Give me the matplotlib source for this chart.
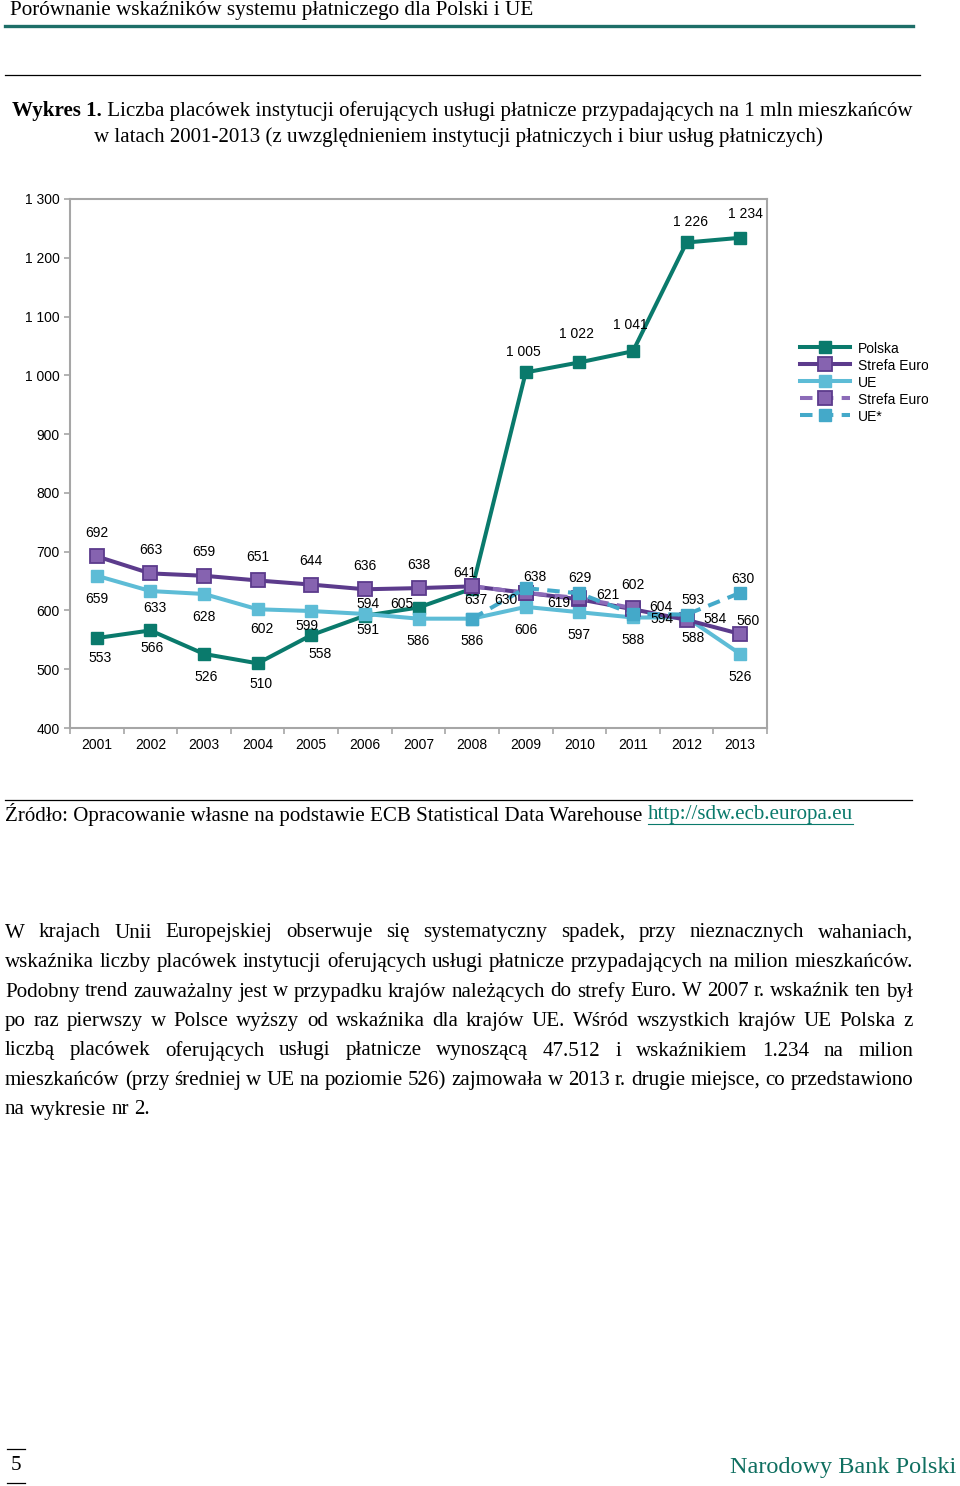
import numpy as np
import matplotlib
matplotlib.use("Agg")
import matplotlib.pyplot as plt
from matplotlib.lines import Line2D

W, H, DPI = 960, 1486, 100
plt.rcParams["lines.scale_dashes"] = False

nan = np.nan
years = [str(y) for y in range(2001, 2014)]
polska = [553, 566, 526, 510, 558, 591, 605, 637, 1005, 1022, 1041, 1226, 1234]
strefa_euro = [692, 663, 659, 651, 644, 636, 638, 641, 630, 619, 602, 584, 560]
ue = [659, 633, 628, 602, 599, 594, 586, 586, 606, 597, 588, 588, 526]
strefa_euro_star = [nan] * 7 + [641, 630, 621, 604, nan, nan]
ue_star = [nan] * 7 + [586, 638, 629, 594, 593, 630]
y_ticks = list(range(400, 1301, 100))

series_names = ["Polska", "Strefa Euro", "UE", "Strefa Euro*", "UE*"]

# label offsets in pixels (dx, dy downwards); None = no label
off_polska = [(3, 20), (2, 18), (2, 23), (3, 21), (9, 19), (3, 14), (-17, -4),
              (4, 11), (-2, -20), (-3, -28), (-3, -26), (4, -20), (5, -24)]
off_se = [(0, -23), (0, -23), (0, -24), (0, -23), (0, -24), (0, -23), (0, -23),
          (-7, -13), (-20, 7), (-21, 4), (0, -24), (28, -1), (8, -13)]
off_ue = [(0, 23), (4, 17), (0, 23), (4, 20), (-4, 15), (3, -10), (0, 22),
          (0, 22), (0, 23), (0, 23), (0, 23), (6, 21), (0, 23)]
off_se_star = [None] * 9 + [(29, -3), (28, -1), None, None]
off_ue_star = [None] * 8 + [(9, -11), (1, -15), (29, 5), (6, -15), (3, -14)]

TEAL = "#0a7a6c"
PURPLE = "#5c3b8c"
PURPLE_FACE = "#8663b0"
PURPLE_DASH = "#8c6bb8"
BLUE = "#5dbcd6"
BLUE_DASH = "#44a9c9"
GRID = "#a6a6a6"
SANS = "Liberation Sans"
SERIF = "Liberation Serif"


def fx(px):
    return px / W


def fy(py):
    return 1 - py / H


def fmt(v):
    return f"{int(v):,}".replace(",", " ")


fig = plt.figure(figsize=(W / DPI, H / DPI), dpi=DPI)
ax = fig.add_axes([fx(70), fy(728), fx(767) - fx(70), fy(199) - fy(728)])

x = np.arange(len(years))
lw = 2.9
styles = [
    (polska, dict(color=TEAL, lw=lw, marker="s", ms=8, mfc=TEAL, mec=TEAL, zorder=3), off_polska),
    (strefa_euro, dict(color=PURPLE, lw=lw, marker="s", ms=10.5, mfc=PURPLE_FACE, mec=PURPLE,
                       mew=1.3, zorder=5), off_se),
    (ue, dict(color=BLUE, lw=lw, marker="s", ms=8, mfc=BLUE, mec=BLUE, zorder=4), off_ue),
    (strefa_euro_star, dict(color=PURPLE_DASH, lw=lw, ls="--", dashes=(9, 6), marker="s", ms=10,
                            mfc=PURPLE_FACE, mec=PURPLE, mew=1.3, zorder=6), off_se_star),
    (ue_star, dict(color=BLUE_DASH, lw=lw, ls="--", dashes=(9, 6), marker="s", ms=8.5,
                   mfc=BLUE_DASH, mec=BLUE_DASH, zorder=7), off_ue_star),
]

handles = []
for vals, kw, offs in styles:
    line, = ax.plot(x, vals, **kw)
    handles.append(line)
    for i, v in enumerate(vals):
        if np.isnan(v) or offs[i] is None:
            continue
        dx, dy = offs[i]
        ax.annotate(fmt(v), (i, v), xytext=(dx, -dy), textcoords="offset pixels",
                    ha="center", va="center", fontsize=10, family=SANS, zorder=10)

ax.set_xlim(-0.5, len(years) - 0.5)
ax.set_ylim(400, 1300)
ax.set_yticks(y_ticks)
ax.set_yticklabels([fmt(v) for v in y_ticks], family=SANS, fontsize=10)
ax.set_xticks(x)
ax.set_xticklabels(years, family=SANS, fontsize=10)
ax.set_xticks(np.arange(-0.5, len(years)), minor=True)
ax.tick_params(axis="x", which="major", length=0, pad=7)
ax.tick_params(axis="x", which="minor", length=4, color=GRID, width=1.2, direction="out")
ax.tick_params(axis="y", length=4, color=GRID, width=1.2, direction="out", pad=3.5)
for sp in ax.spines.values():
    sp.set_color(GRID)
    sp.set_linewidth(1.5)

# legend: handles from the plotted lines, names clipped at the chart frame like the original
lax = fig.add_axes([fx(795), fy(430), fx(928) - fx(795), fy(335) - fy(430)])
lax.set_axis_off()
lax.legend(handles, [""] * len(handles), loc="upper left", bbox_to_anchor=(fx(800), fy(341)),
           bbox_transform=fig.transFigure, frameon=False, handlelength=3.6, handletextpad=0,
           labelspacing=0.22, borderpad=0, borderaxespad=0, numpoints=1,
           prop=dict(family=SANS, size=10))
for k, name in enumerate(series_names):
    lax.text(fx(858), fy(349 + 17 * k), name, transform=fig.transFigure, family=SANS,
             fontsize=10, va="center", ha="left", clip_on=True)

# page layout around the chart
renderer = fig.canvas.get_renderer()
BODY = 15.1


def hline(y, x0, x1, color="black", lw=1.0):
    fig.add_artist(Line2D([fx(x0), fx(x1)], [fy(y), fy(y)], color=color, lw=lw,
                          transform=fig.transFigure))


def width_of(text, **kw):
    t = fig.text(0, 0, text, **kw)
    w = t.get_window_extent(renderer).width
    t.remove()
    return w


def put_line(text, x0, x1, y, justify, **kw):
    words = text.split(" ")
    arts = [fig.text(0, fy(y), w, va="center", **kw) for w in words]
    widths = [a.get_window_extent(renderer).width for a in arts]
    if justify and len(words) > 1:
        gap = (x1 - x0 - sum(widths)) / (len(words) - 1)
    else:
        gap = width_of("x x", **kw) - width_of("xx", **kw)
    pos = x0
    for a, w in zip(arts, widths):
        a.set_x(fx(pos))
        pos += w + gap


fig.text(fx(10), fy(11), "Porównanie wskaźników systemu płatniczego dla Polski i UE",
         family=SERIF, fontsize=15.2, va="center")
hline(26, 5, 913, color="#1d6e68", lw=2.4)
hline(75, 5, 920, lw=0.9)

cap_bold = "Wykres 1."
cap_rest = " Liczba placówek instytucji oferujących usługi płatnicze przypadających na 1 mln mieszkańców"
wb = width_of(cap_bold, family=SERIF, fontsize=BODY, weight="bold")
wr = width_of(cap_rest, family=SERIF, fontsize=BODY)
start = 462 - (wb + wr) / 2
fig.text(fx(start), fy(111), cap_bold, family=SERIF, fontsize=BODY, weight="bold", va="center")
fig.text(fx(start + wb), fy(111), cap_rest, family=SERIF, fontsize=BODY, va="center")
fig.text(fx(458), fy(137), "w latach 2001-2013 (z uwzględnieniem instytucji płatniczych i biur usług płatniczych)",
         family=SERIF, fontsize=BODY, ha="center", va="center")

hline(800, 5, 912, lw=0.9)
src = "Źródło: Opracowanie własne na podstawie ECB Statistical Data Warehouse "
link = "http://sdw.ecb.europa.eu"
ws = width_of(src, family=SERIF, fontsize=BODY)
wl = width_of(link, family=SERIF, fontsize=BODY)
fig.text(fx(5), fy(814), src, family=SERIF, fontsize=BODY, va="center")
fig.text(fx(5 + ws), fy(814), link, family=SERIF, fontsize=BODY, va="center", color=TEAL)
hline(824, 5 + ws, 5 + ws + wl, color=TEAL, lw=0.8)

paragraph = [
    "W krajach Unii Europejskiej obserwuje się systematyczny spadek, przy nieznacznych wahaniach,",
    "wskaźnika liczby placówek instytucji oferujących usługi płatnicze przypadających na milion mieszkańców.",
    "Podobny trend zauważalny jest w przypadku krajów należących do strefy Euro. W 2007 r. wskaźnik ten był",
    "po raz pierwszy w Polsce wyższy od wskaźnika dla krajów UE. Wśród wszystkich krajów UE Polska z",
    "liczbą placówek oferujących usługi płatnicze wynoszącą 47.512 i wskaźnikiem 1.234 na milion",
    "mieszkańców (przy średniej w UE na poziomie 526) zajmowała w 2013 r. drugie miejsce, co przedstawiono",
    "na wykresie nr 2.",
]
for k, line_text in enumerate(paragraph):
    put_line(line_text, 5, 913, 933 + k * 29.5, justify=k < len(paragraph) - 1,
             family=SERIF, fontsize=BODY)

hline(1449, 7, 25, lw=0.9)
hline(1483, 7, 25, lw=0.9)
fig.text(fx(16), fy(1466), "5", family=SERIF, fontsize=BODY, ha="center", va="center")
fig.text(fx(956), fy(1468), "Narodowy Bank Polski", family=SERIF, fontsize=17.5,
         ha="right", va="center", color="#0f6f60")

fig.savefig("out.png", dpi=DPI)
